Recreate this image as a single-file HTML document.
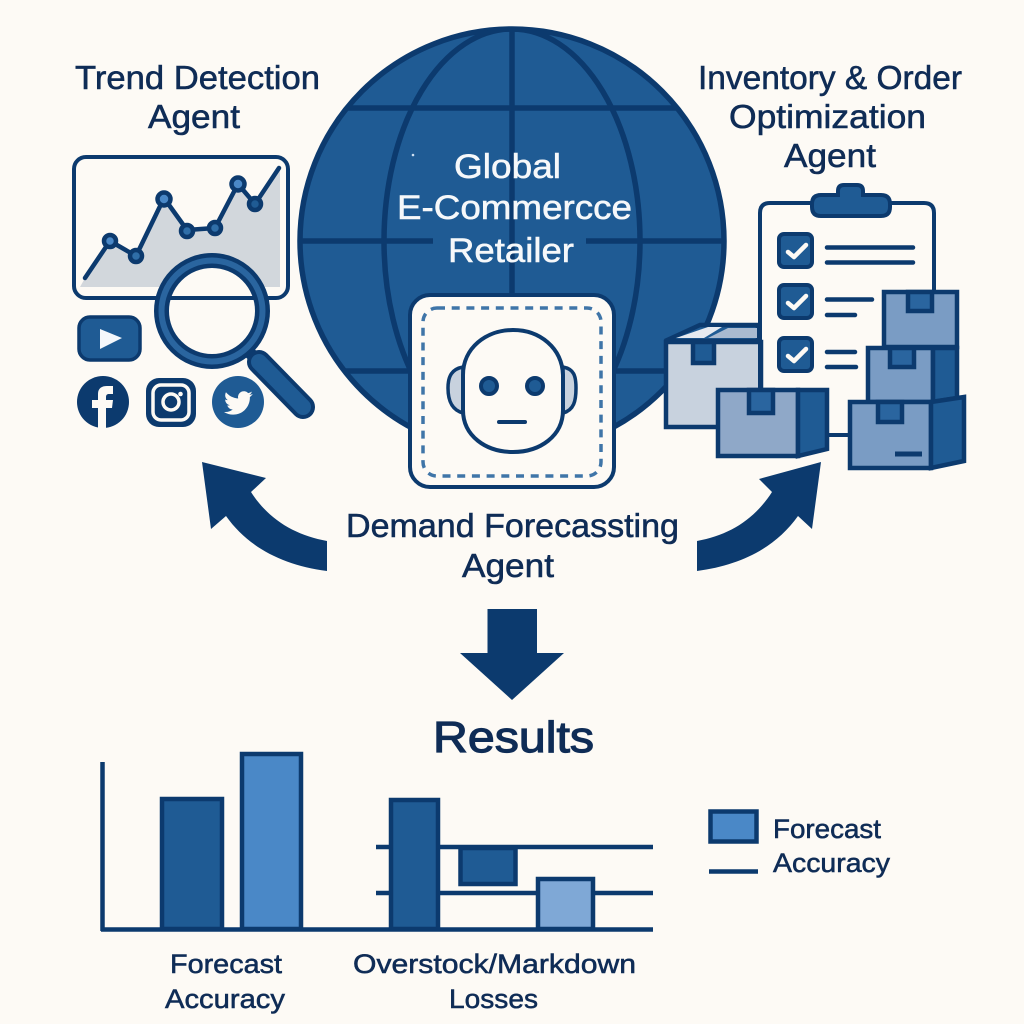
<!DOCTYPE html>
<html><head><meta charset="utf-8">
<style>
html,body{margin:0;padding:0;background:#fdfaf5}
svg{display:block}
text{font-family:"Liberation Sans",sans-serif;fill:#0f2c56;text-anchor:start;stroke:#0f2c56;stroke-width:.55}
.w{fill:#f6f8fa;stroke:#f6f8fa}
</style></head><body>
<svg width="1024" height="1024" viewBox="0 0 1024 1024" xmlns="http://www.w3.org/2000/svg">
<rect width="1024" height="1024" fill="#fdfaf5"/>
<defs><clipPath id="g"><circle cx="512" cy="241" r="212"/></clipPath></defs>

<!-- globe -->
<circle cx="512" cy="241" r="212" fill="#1f5b94" stroke="#0c3a6e" stroke-width="5.5"/>
<g clip-path="url(#g)" fill="none" stroke="#0c3a6e" stroke-width="5.5">
<ellipse cx="512" cy="241" rx="128" ry="212"/>
<path d="M512 28V300M300 108H724M300 371H724M298 241H433M586 241H726" />
</g>
<circle cx="413" cy="155" r="1.3" fill="#cfe0f2"/>
<text class="w" x="454" y="178" font-size="34" textLength="107" lengthAdjust="spacingAndGlyphs">Global</text>
<text class="w" x="397" y="219" font-size="34" textLength="235" lengthAdjust="spacingAndGlyphs">E-Commercce</text>
<text class="w" x="448" y="262" font-size="34" textLength="126" lengthAdjust="spacingAndGlyphs">Retailer</text>

<!-- robot card -->
<rect x="410" y="295" width="204" height="192" rx="20" fill="#fdfaf5" stroke="#0c3a6e" stroke-width="4"/>
<rect x="423" y="308" width="178" height="168" rx="14" fill="none" stroke="#3f75a8" stroke-width="3.5" stroke-dasharray="8 6.7"/>
<path d="M463 367C452 369 448 376 448 388C448 401 452 410 463 413Z" fill="#c8d2de" stroke="#0c3a6e" stroke-width="3.5"/>
<path d="M563 367C574 369 576 376 576 388C576 401 574 410 563 413Z" fill="#c8d2de" stroke="#0c3a6e" stroke-width="3.5"/>
<path d="M513 330C540 330 562 348 563 375V410C563 436 540 452 513 452C486 452 463 436 463 410V375C463 348 486 330 513 330Z" fill="#fdfaf5" stroke="#0c3a6e" stroke-width="4"/>
<circle cx="489" cy="386" r="8" fill="#1f5b94" stroke="#0c3a6e" stroke-width="4"/>
<circle cx="535" cy="386" r="8" fill="#1f5b94" stroke="#0c3a6e" stroke-width="4"/>
<path d="M499 422H525" stroke="#0c3a6e" stroke-width="4" stroke-linecap="round"/>

<!-- headings -->
<text x="75" y="89" font-size="33" textLength="245" lengthAdjust="spacingAndGlyphs">Trend Detection</text>
<text x="148" y="128" font-size="33" textLength="92" lengthAdjust="spacingAndGlyphs">Agent</text>
<text x="698" y="89" font-size="33" textLength="264" lengthAdjust="spacingAndGlyphs">Inventory &amp; Order</text>
<text x="729" y="128" font-size="33" textLength="197" lengthAdjust="spacingAndGlyphs">Optimization</text>
<text x="784" y="167" font-size="33" textLength="92" lengthAdjust="spacingAndGlyphs">Agent</text>

<!-- monitor -->
<rect x="74" y="157" width="214" height="141" rx="12" fill="#fdfaf5" stroke="#0c3a6e" stroke-width="4"/>
<path d="M80 287L85 278L110 241L136 256L164 198L187 230L215 228L238 184L255 204L280 170V287Z" fill="#d2d7dc"/>
<path d="M85 278L110 241L136 256L164 198L187 230L215 228L238 184L255 204L279 168" fill="none" stroke="#0c3a6e" stroke-width="4.5" stroke-linecap="round" stroke-linejoin="round"/>
<g fill="#4a88c7" stroke="#0c3a6e" stroke-width="4.5">
<circle cx="110" cy="241" r="6"/><circle cx="136" cy="256" r="6" fill="#2f6ea8"/><circle cx="164" cy="199" r="6.500"/><circle cx="187" cy="231" r="6" fill="#2f6ea8"/><circle cx="215" cy="228" r="6" fill="#2f6ea8"/><circle cx="238" cy="184" r="6.500"/><circle cx="255" cy="204" r="6" fill="#1f5b94"/>
</g>

<!-- magnifier -->
<path d="M250 353L262 365" stroke="#0c3a6e" stroke-width="12"/>
<circle cx="212" cy="311" r="47" fill="#fdfaf5"/>
<path d="M165 298H259" stroke="#0c3a6e" stroke-width="4"/>
<circle cx="212" cy="311" r="50.500" fill="none" stroke="#0c3a6e" stroke-width="15"/>
<circle cx="212" cy="311" r="50.500" fill="none" stroke="#2a659f" stroke-width="6"/>
<path d="M259 362L303 407" stroke="#0c3a6e" stroke-width="24" stroke-linecap="round"/>
<path d="M259 362L303 407" stroke="#1f5b94" stroke-width="16" stroke-linecap="round"/>

<!-- social -->
<rect x="79" y="317" width="61" height="43" rx="11" fill="#1f5b94" stroke="#0c3a6e" stroke-width="3.500"/>
<path d="M100 329L122 338L100 349Z" fill="#f4f7fb"/>
<circle cx="103" cy="402" r="26" fill="#0c3a6e"/>
<path d="M98 428V408H92V400H98V394C98 388 102 386 107 386H113V394H109C107 394 106 395 106 397V400H113L112 408H106V428Z" fill="#fdfaf5"/>
<rect x="146" y="378" width="50" height="49" rx="13" fill="#0c3a6e"/>
<rect x="153" y="385" width="36" height="35" rx="8" fill="none" stroke="#fdfaf5" stroke-width="3.500"/>
<circle cx="171" cy="402" r="8" fill="none" stroke="#fdfaf5" stroke-width="3.500"/>
<circle cx="180.500" cy="394" r="2.300" fill="#fdfaf5"/>
<circle cx="238" cy="402" r="26" fill="#1f5b94"/>
<path transform="translate(224 388.500) scale(1.2)" fill="#fdfaf5" d="M23.953 4.57a10 10 0 01-2.825.775 4.958 4.958 0 002.163-2.723c-.951.555-2.005.959-3.127 1.184a4.92 4.92 0 00-8.384 4.482C7.69 8.095 4.067 6.13 1.64 3.162a4.822 4.822 0 00-.666 2.475c0 1.71.87 3.213 2.188 4.096a4.904 4.904 0 01-2.228-.616v.06a4.923 4.923 0 003.946 4.827 4.996 4.996 0 01-2.212.085 4.936 4.936 0 004.604 3.417 9.867 9.867 0 01-6.102 2.105c-.39 0-.779-.023-1.17-.067a13.995 13.995 0 007.557 2.209c9.053 0 13.998-7.496 13.998-13.985 0-.21 0-.42-.015-.63A9.935 9.935 0 0024 4.590z"/>

<!-- box A -->
<g stroke="#0c3a6e" stroke-width="4.5" stroke-linejoin="miter">
<path d="M665 341L700 325H758V341Z" fill="#1f5b94"/>
<path d="M676 338L708 327H722L704 338Z" fill="#e6eaf0" stroke="none"/>
<path d="M708 338L728 328H757V338Z" fill="#a9bad0" stroke="none"/>
<rect x="666" y="342" width="95" height="85" fill="#c8d2de"/>
<rect x="693" y="342" width="21" height="21" fill="#1f5b94"/>
</g>

<!-- clipboard -->
<path d="M758 400H936V300" fill="#fdfaf5" stroke="none"/>
<path d="M760 392V213Q760 203 770 203H924Q934 203 934 213V295" fill="none" stroke="#0c3a6e" stroke-width="4"/>
<path d="M812 204Q812 195 821 195H838V191Q838 185 844 185H857Q863 185 863 191V195H881Q890 195 890 204V207Q890 216 881 216H821Q812 216 812 207Z" fill="#1f5b94" stroke="#0c3a6e" stroke-width="4"/>
<g fill="#1f5b94" stroke="#0c3a6e" stroke-width="4">
<rect x="779" y="234" width="33" height="33" rx="5"/>
<rect x="779" y="285" width="33" height="33" rx="5"/>
<rect x="779" y="338" width="33" height="33" rx="5"/>
</g>
<g fill="none" stroke="#fdfaf5" stroke-width="4.500" stroke-linecap="round" stroke-linejoin="round">
<path d="M788 252L794 257L806 245"/><path d="M788 303L794 308L806 296"/><path d="M788 356L794 361L806 349"/>
</g>
<g stroke="#0c3a6e" stroke-width="4.500" stroke-linecap="round">
<path d="M827 247.500H913M827 262.500H913M827 299.500H872M827 315H855M827 352H855M827 367H856"/>
</g>

<!-- connector -->
<path d="M825 435H850" stroke="#0c3a6e" stroke-width="4"/>

<!-- boxes -->
<g stroke="#0c3a6e" stroke-width="4.500">
<rect x="718" y="390" width="80" height="66" fill="#8fa8c8"/>
<path d="M798 390H827V449L798 456Z" fill="#1f5b94"/>
<rect x="749" y="390" width="24" height="23" fill="#2a659f"/>

<rect x="884" y="292" width="73" height="55" fill="#7a9cc4"/>
<rect x="908" y="292" width="24" height="19" fill="#2a659f"/>

<rect x="868" y="348" width="65" height="54" fill="#7a9cc4"/>
<path d="M933 348H957V398L933 402Z" fill="#1f5b94"/>
<rect x="890" y="348" width="24" height="19" fill="#2a659f"/>

<rect x="850" y="402" width="81" height="66" fill="#7a9cc4"/>
<path d="M931 402L964 397V461L931 468Z" fill="#1f5b94"/>
<rect x="878" y="402" width="24" height="20" fill="#2a659f"/>
</g>
<path d="M895 454H922" stroke="#0c3a6e" stroke-width="5"/>

<!-- arrows -->
<path d="M202 462L266 478L251 492C269 520 295 535 327 541V571C282 565 248 547 226 516L211 529Z" fill="#0c3a6e"/>
<path d="M821 462L759 479L772 492C754 520 729 535 697 541V571C742 565 776 547 798 516L812 529Z" fill="#0c3a6e"/>
<path d="M487.500 609H537V653H564L512 700L460 653H487.500Z" fill="#0c3a6e"/>

<text x="346" y="537" font-size="33" textLength="333" lengthAdjust="spacingAndGlyphs">Demand Forecassting</text>
<text x="462" y="577" font-size="33" textLength="92" lengthAdjust="spacingAndGlyphs">Agent</text>
<text x="433" y="752" font-size="44" textLength="161" lengthAdjust="spacingAndGlyphs" style="stroke-width:1.2">Results</text>

<!-- chart -->
<g stroke="#0c3a6e" stroke-width="4.500">
<path d="M376 847H653M376 893H653" />
<rect x="162" y="799" width="60" height="130" fill="#1f5b94"/>
<rect x="242" y="754" width="59" height="175" fill="#4a88c7"/>
<rect x="391" y="800" width="47" height="129" fill="#1f5b94"/>
<rect x="460.500" y="848" width="55" height="36" fill="#1f5b94"/>
<rect x="538" y="879" width="55" height="50" fill="#7fa8d6"/>
<path d="M102.500 762V931M101 929.500H653"/>
<rect x="710.500" y="811.500" width="46" height="30" fill="#4a88c7"/>
<path d="M709 871.500H758"/>
</g>

<text x="773" y="838" font-size="27" textLength="108" lengthAdjust="spacingAndGlyphs">Forecast</text>
<text x="773" y="872" font-size="27" textLength="117" lengthAdjust="spacingAndGlyphs">Accuracy</text>
<text x="170" y="973" font-size="27" textLength="112" lengthAdjust="spacingAndGlyphs">Forecast</text>
<text x="165" y="1008" font-size="27" textLength="120" lengthAdjust="spacingAndGlyphs">Accuracy</text>
<text x="353" y="973" font-size="27" textLength="283" lengthAdjust="spacingAndGlyphs">Overstock/Markdown</text>
<text x="449" y="1008" font-size="27" textLength="89" lengthAdjust="spacingAndGlyphs">Losses</text>
</svg>
</body></html>
